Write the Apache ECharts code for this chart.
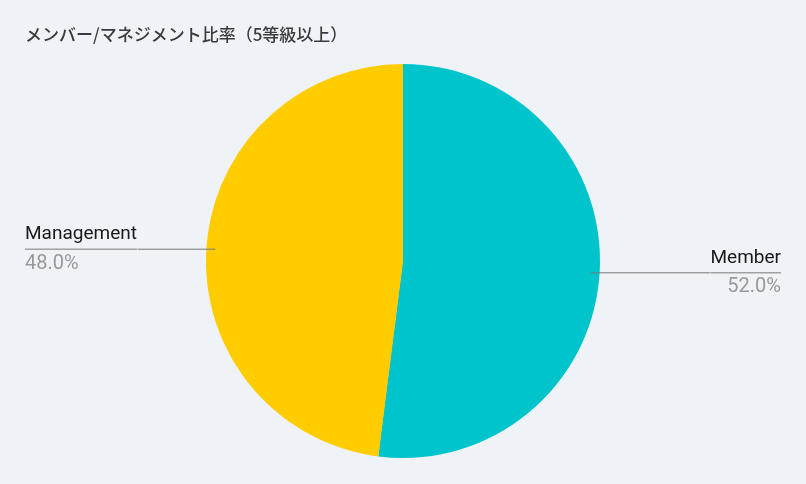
<!DOCTYPE html>
<html>
<head>
<meta charset="utf-8">
<script src="https://cdn.jsdelivr.net/npm/echarts@6/dist/echarts.min.js"></script>
<style>
  html, body { margin: 0; padding: 0; background: #eff3f7; }
  #chart { width: 806px; height: 484px; }
</style>
</head>
<body>
<div id="chart"></div>
<script>
var titleText = 'メンバー/マネジメント比率（5等級以上）';
var categories = ['Member', 'Management'];
var shares = [52.0, 48.0];
var colors = ['#00c4cc', '#ffcc00'];

var pieData = categories.map(function (name, i) {
    return { name: name, value: shares[i], itemStyle: { color: colors[i] } };
});

var myChart = echarts.init(document.getElementById('chart'));
var chartOption = {
    backgroundColor: '#eff3f7',
    animation: false,
    title: {
        text: titleText,
        left: 25,
        top: 26,
        padding: 0,
        textStyle: {
            fontFamily: '"Noto Sans CJK JP", Roboto, sans-serif',
            fontSize: 17,
            fontWeight: 500,
            color: '#3a3a3a'
        }
    },
    series: [
        {
            // visible pie
            type: 'pie',
            center: [403, 261],
            radius: 197,
            startAngle: 90,
            clockwise: true,
            silent: true,
            z: 2,
            label: { show: false },
            labelLine: { show: false },
            itemStyle: { borderWidth: 0 },
            data: pieData
        },
        {
            // label carrier, a bit smaller so the leader line starts inside the pie
            type: 'pie',
            center: [403, 261],
            radius: 188,
            startAngle: 90,
            clockwise: true,
            silent: true,
            z: 3,
            itemStyle: { color: 'rgba(0,0,0,0)', borderWidth: 0 },
            label: {
                show: true,
                alignTo: 'edge',
                edgeDistance: 25,
                distanceToLabelLine: 0,
                formatter: function (p) {
                    return '{name|' + p.name + '}\n{hr|}\n{pct|' + p.value.toFixed(1) + '%}';
                },
                rich: {
                    name: { fontFamily: 'Roboto, sans-serif', fontSize: 19, color: '#1a1a1a', lineHeight: 26, padding: [0, 0, 3, 0] },
                    hr: { width: '100%', height: 0, borderWidth: 0.6, borderColor: '#777' },
                    pct: { fontFamily: 'Roboto, sans-serif', fontSize: 20, color: '#999', lineHeight: 26, padding: [3, 0, 0, 0] }
                }
            },
            labelLine: {
                show: true,
                length: 0,
                length2: 0,
                lineStyle: { color: '#777', width: 1 }
            },
            data: pieData
        }
    ]
};
myChart.setOption(chartOption);
</script>
</body>
</html>
